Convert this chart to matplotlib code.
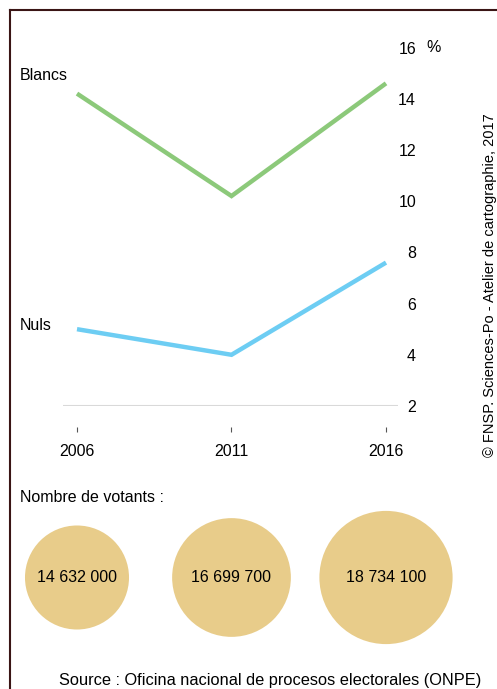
import matplotlib
matplotlib.use("Agg")
import matplotlib.pyplot as plt
from matplotlib.lines import Line2D
from matplotlib.transforms import blended_transform_factory

plt.rcParams["font.family"] = ["Liberation Sans", "DejaVu Sans"]
plt.rcParams["font.size"] = 11.5

# donnees
annees = [2006, 2011, 2016]
blancs = [14.2, 10.2, 14.6]
nuls = [5.0, 4.0, 7.6]
yticks = [2, 4, 6, 8, 10, 12, 14, 16]
votants = [14632000, 16699700, 18734100]
votants_txt = ["14 632 000", "16 699 700", "18 734 100"]

W, H = 497, 689
fig = plt.figure(figsize=(W / 100, H / 100), dpi=100)

def px(x0, y0, x1, y1):
    # rectangle en pixels (origine en haut a gauche) -> fraction de figure
    return [x0 / W, 1 - y1 / H, (x1 - x0) / W, (y1 - y0) / H]

vert = "#8cc97a"
bleu = "#6dcdf3"
beige = "#e8cc8a"
cadre = "#3a1515"

# courbes
ax = fig.add_axes(px(63, 47.5, 398, 406))
ax.plot(annees, blancs, color=vert, lw=3.2, solid_capstyle="butt", solid_joinstyle="miter")
ax.plot(annees, nuls, color=bleu, lw=3.2, solid_capstyle="butt", solid_joinstyle="miter")
ax.axhline(2, color="#d9d9d9", lw=1.5)
ax.set_xlim(2006 - 14 / 30.9, 2016 + 12 / 30.9)
ax.set_ylim(2, 16)
for s in ax.spines.values():
    s.set_visible(False)
ax.spines["bottom"].set_position(("outward", 15))
ax.set_xticks(annees)
ax.tick_params(axis="x", direction="out", length=3.6, width=0.8, color="#555555", pad=9)
ax.yaxis.tick_right()
ax.set_yticks(yticks)
ax.tick_params(axis="y", length=0, pad=13)
for lab in ax.get_yticklabels():
    lab.set_horizontalalignment("right")
trans = blended_transform_factory(fig.transFigure, ax.transData)
ax.text(426 / W, 16, "%", transform=trans, ha="left", va="center")
ax.patch.set_visible(False)

fig.text(20 / W, 1 - 76 / H, "Blancs", ha="left", va="center")
fig.text(20 / W, 1 - 325 / H, "Nuls", ha="left", va="center")

# cercles
axb = fig.add_axes(px(63, 505, 398, 650))
axb.set_xlim(ax.get_xlim())
axb.set_ylim(-1, 1)
axb.axis("off")
k = 66.6 / max(votants)
tailles = [(2 * v * k * 0.72) ** 2 for v in votants]
axb.scatter(annees, [0 for a in annees], s=tailles, color=beige, edgecolors="none", clip_on=False)
for a, t in zip(annees, votants_txt):
    axb.text(a, 0, t, ha="center", va="center")

fig.text(20 / W, 1 - 498 / H, "Nombre de votants :", ha="left", va="center")
fig.text(270 / W, 1 - 680 / H, "Source : Oficina nacional de procesos electorales (ONPE)",
         ha="center", va="center", fontsize=11.75)
fig.text(490 / W, 1 - 285 / H, "© FNSP. Sciences-Po - Atelier de cartographie, 2017",
         rotation=90, ha="center", va="center", fontsize=10.5)

# cadre
fig.add_artist(Line2D([10 / W, 10 / W], [0, 1 - 10 / H], color=cadre, lw=1.5, transform=fig.transFigure))
fig.add_artist(Line2D([10 / W, 1], [1 - 10 / H, 1 - 10 / H], color=cadre, lw=1.5, transform=fig.transFigure))

fig.savefig("out.png", dpi=100)
